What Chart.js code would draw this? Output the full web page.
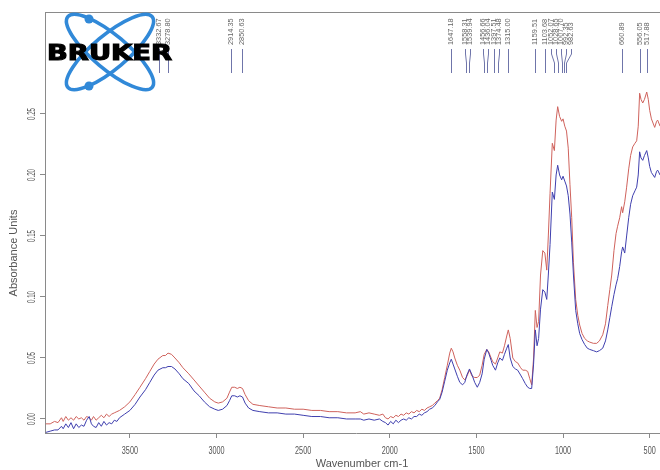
<!DOCTYPE html>
<html><head><meta charset="utf-8">
<script src="https://cdn.jsdelivr.net/npm/chart.js@4"></script>
<style>
html,body{margin:0;padding:0;background:#fff;overflow:hidden;}
#wrap{position:relative;width:660px;height:470px;overflow:hidden;background:#fff;}
#box{position:absolute;left:0;top:0;width:700px;height:470px;}
#logo{position:absolute;left:0;top:0;pointer-events:none;}
</style></head><body>
<div id="wrap">
<div id="box"><canvas id="c" width="700" height="470"></canvas></div>
<svg id="logo" width="660" height="470" xmlns="http://www.w3.org/2000/svg">
  <g fill="none" stroke="#3189d8" stroke-width="3.6">
    <ellipse cx="110" cy="52" rx="55" ry="17" transform="rotate(40 110 52)"/>
    <ellipse cx="110" cy="52" rx="55" ry="17" transform="rotate(-40 110 52)"/>
  </g>
  <circle cx="89" cy="19" r="4.5" fill="#3189d8"/>
  <circle cx="89" cy="86" r="4.5" fill="#3189d8"/>
  <text x="47" y="60" font-family="DejaVu Sans, sans-serif" font-weight="bold" font-size="21" fill="#000" stroke="#000" stroke-width="1.1" textLength="125" lengthAdjust="spacingAndGlyphs">BRUKER</text>
</svg>
</div>
<script>
// wavenumber (cm-1)
const wavenumbers = [3985,3960,3935,3915,3895,3885,3870,3855,3840,3825,3810,3795,3780,3765,3750,3735,3722,3710,3695,3680,3665,3650,3635,3620,3605,3590,3575,3560,3530,3500,3470,3442,3410,3385,3360,3338,3310,3295,3280,3260,3240,3215,3194,3160,3130,3100,3070,3040,3010,2990,2965,2940,2925,2912,2895,2880,2865,2850,2835,2815,2790,2750,2700,2650,2600,2550,2500,2450,2400,2350,2300,2250,2200,2170,2150,2120,2090,2060,2040,2025,2010,1995,1980,1965,1950,1935,1920,1905,1890,1875,1860,1845,1830,1815,1800,1785,1770,1755,1740,1725,1712,1698,1683,1668,1654,1645,1635,1625,1610,1596,1580,1567,1555,1540,1525,1510,1495,1481,1467,1455,1440,1429,1415,1406,1390,1377,1365,1350,1338,1325,1316,1305,1290,1275,1262,1245,1233,1218,1204,1192,1181,1170,1160,1150,1141,1130,1117,1105,1094,1085,1075,1062,1050,1040,1031,1020,1008,1000,990,980,970,960,950,940,927,915,904,890,875,860,846,825,806,790,771,755,742,730,719,706,694,685,673,662,656,644,633,621,610,598,585,575,566,558,550,540,530,517,508,500,490,471,460,454,440];
// sample 1 (red)
const sampleRed = [-0.004,-0.004,-0.002,-0.003,0.001,-0.002,0.002,-0.001,0.001,-0.001,0.002,0.000,0.001,-0.001,0.002,0.001,-0.001,0.002,-0.001,0.001,0.003,0.001,0.004,0.002,0.004,0.005,0.006,0.007,0.010,0.014,0.020,0.026,0.033,0.039,0.045,0.049,0.052,0.052,0.054,0.053,0.050,0.046,0.042,0.037,0.032,0.027,0.022,0.017,0.014,0.013,0.014,0.017,0.022,0.026,0.026,0.025,0.026,0.025,0.020,0.015,0.012,0.011,0.010,0.009,0.009,0.008,0.008,0.007,0.007,0.006,0.006,0.005,0.005,0.006,0.004,0.005,0.004,0.003,0.004,0.001,0.000,0.002,0.001,0.003,0.002,0.004,0.003,0.005,0.004,0.006,0.005,0.007,0.006,0.008,0.007,0.009,0.010,0.011,0.013,0.015,0.017,0.024,0.034,0.044,0.054,0.058,0.055,0.050,0.044,0.040,0.034,0.032,0.035,0.040,0.035,0.034,0.034,0.036,0.044,0.053,0.057,0.055,0.050,0.047,0.045,0.050,0.055,0.054,0.060,0.068,0.073,0.066,0.050,0.047,0.046,0.042,0.040,0.040,0.039,0.033,0.028,0.050,0.089,0.075,0.080,0.118,0.138,0.136,0.122,0.150,0.185,0.226,0.220,0.245,0.256,0.248,0.244,0.246,0.240,0.236,0.222,0.192,0.165,0.128,0.098,0.085,0.077,0.070,0.066,0.064,0.063,0.062,0.062,0.064,0.069,0.078,0.093,0.106,0.118,0.138,0.152,0.158,0.165,0.174,0.169,0.178,0.190,0.205,0.216,0.223,0.226,0.228,0.240,0.267,0.262,0.259,0.262,0.268,0.262,0.253,0.246,0.239,0.244,0.245,0.240];
// sample 2 (blue)
const sampleBlue = [-0.011,-0.010,-0.009,-0.009,-0.006,-0.008,-0.004,-0.007,-0.003,-0.008,-0.004,-0.007,-0.005,-0.006,-0.001,0.002,-0.004,-0.006,-0.007,-0.003,-0.006,-0.002,-0.005,-0.003,-0.004,-0.001,-0.002,0.001,0.004,0.007,0.012,0.018,0.024,0.030,0.036,0.040,0.042,0.042,0.043,0.043,0.041,0.037,0.033,0.029,0.023,0.019,0.014,0.010,0.008,0.007,0.008,0.011,0.015,0.019,0.019,0.018,0.019,0.018,0.013,0.009,0.007,0.006,0.005,0.005,0.004,0.004,0.003,0.002,0.002,0.001,0.001,0.000,0.000,0.000,-0.001,0.000,-0.001,0.000,-0.002,-0.003,-0.005,-0.002,-0.004,-0.001,-0.003,-0.001,0.000,-0.001,0.001,0.000,0.002,0.002,0.004,0.003,0.005,0.006,0.008,0.009,0.011,0.014,0.016,0.022,0.031,0.040,0.046,0.049,0.045,0.041,0.035,0.030,0.028,0.030,0.036,0.041,0.036,0.030,0.026,0.030,0.037,0.049,0.057,0.054,0.048,0.044,0.040,0.046,0.050,0.048,0.053,0.058,0.061,0.050,0.043,0.041,0.040,0.036,0.033,0.029,0.026,0.025,0.025,0.045,0.073,0.060,0.066,0.090,0.106,0.104,0.098,0.118,0.143,0.186,0.180,0.200,0.208,0.200,0.196,0.199,0.195,0.191,0.183,0.168,0.145,0.118,0.089,0.078,0.070,0.065,0.061,0.058,0.057,0.056,0.055,0.056,0.058,0.064,0.073,0.083,0.092,0.102,0.110,0.115,0.125,0.137,0.141,0.136,0.150,0.165,0.176,0.183,0.187,0.190,0.200,0.219,0.214,0.212,0.216,0.220,0.214,0.207,0.202,0.198,0.203,0.204,0.200];
const xTicks = [3500,3000,2500,2000,1500,1000,500];
const yTicks = [0.00,0.05,0.10,0.15,0.20,0.25];
const peakLabels = [3332.67,3278.80,2914.35,2850.63,1647.18,1558.31,1539.94,1456.66,1436.04,1397.51,1374.48,1315.00,1159.51,1103.68,1052.07,1028.65,1007.70,992.35,982.63,660.89,556.05,517.88];
const xTitle = 'Wavenumber cm-1';
const yTitle = 'Absorbance Units';

function drawText(ctx, txt, x, y, font, color, rot, sx, align, base){
  ctx.save();
  ctx.translate(x, y);
  if (rot) ctx.rotate(rot);
  ctx.scale(sx, 1);
  ctx.font = font; ctx.fillStyle = color;
  ctx.textAlign = align; ctx.textBaseline = base;
  ctx.fillText(txt, 0, 0);
  ctx.restore();
}

const overlay = {
  id: 'overlay',
  afterDraw(chart){
    const ctx = chart.ctx, a = chart.chartArea;
    const xs = chart.scales.x, ys = chart.scales.y;
    ctx.save();
    // top frame line
    ctx.strokeStyle = '#8a8a8a'; ctx.lineWidth = 1;
    ctx.beginPath(); ctx.moveTo(a.left, a.top + 0.5); ctx.lineTo(a.right, a.top + 0.5); ctx.stroke();
    // x tick labels
    xTicks.forEach(v => {
      drawText(ctx, String(v), xs.getPixelForValue(v), 451, '11px "Liberation Sans", Arial, sans-serif', '#555', 0, 0.66, 'center', 'middle');
    });
    // y tick labels (rotated)
    yTicks.forEach(v => {
      drawText(ctx, v.toFixed(2), 32, ys.getPixelForValue(v), '10px "Liberation Sans", Arial, sans-serif', '#555', -Math.PI/2, 0.62, 'center', 'middle');
    });
    // axis titles
    drawText(ctx, xTitle, (a.left + 667) / 2 + 6, 464, '11px "Liberation Sans", Arial, sans-serif', '#555', 0, 1, 'center', 'middle');
    drawText(ctx, yTitle, 14, 253, '11px "Liberation Sans", Arial, sans-serif', '#555', -Math.PI/2, 1, 'center', 'middle');
    // peak labels with leader lines
    const gap = 5;
    const items = peakLabels.map(w => ({w, p: xs.getPixelForValue(w)})).sort((m, n) => m.p - n.p);
    const clusters = [];
    items.forEach(it => {
      let c = {items: [it]};
      const place = cl => {
        const mean = cl.items.reduce((s, q) => s + q.p, 0) / cl.items.length;
        cl.start = mean - (cl.items.length - 1) * gap / 2;
        cl.end = cl.start + (cl.items.length - 1) * gap;
      };
      place(c);
      while (clusters.length && clusters[clusters.length - 1].end + gap > c.start) {
        const prev = clusters.pop();
        c = {items: prev.items.concat(c.items)};
        place(c);
      }
      clusters.push(c);
    });
    clusters.forEach(cl => cl.items.forEach((it, k) => { it.t = cl.start + k * gap; }));
    ctx.strokeStyle = '#6f75aa'; ctx.lineWidth = 1;
    items.forEach(it => {
      const t = Math.round(it.t) + 0.5, p = Math.round(it.p) + 0.5;
      ctx.beginPath();
      ctx.moveTo(t, 49); ctx.lineTo(t, 54); ctx.lineTo(p, 63); ctx.lineTo(p, 73);
      ctx.stroke();
      drawText(ctx, it.w.toFixed(2), it.t, 45, '7.4px "Liberation Sans", Arial, sans-serif', '#666', -Math.PI/2, 1, 'left', 'middle');
    });
    ctx.restore();
  }
};

const axisCommon = {
  ticks: {display: false},
  grid: {drawOnChartArea: false, drawTicks: true, tickLength: 5, color: '#8a8a8a'},
  border: {display: true, color: '#8a8a8a'}
};

new Chart(document.getElementById('c'), {
  type: 'line',
  data: {
    datasets: [
      {label: 'blue', data: wavenumbers.map((w, i) => ({x: w, y: sampleBlue[i]})), borderColor: '#3f3fae', borderWidth: 1, pointRadius: 0, tension: 0},
      {label: 'red', data: wavenumbers.map((w, i) => ({x: w, y: sampleRed[i]})), borderColor: '#cf625c', borderWidth: 1, pointRadius: 0, tension: 0}
    ]
  },
  options: {
    responsive: false, animation: false, devicePixelRatio: 1,
    layout: {padding: {left: 0, top: 12, right: 33, bottom: 0}},
    plugins: {legend: {display: false}, tooltip: {enabled: false}},
    scales: {
      x: Object.assign({type: 'linear', reverse: true, min: 400, max: 3990,
        afterBuildTicks: s => { s.ticks = xTicks.map(v => ({value: v})); },
        afterFit: s => { s.height = 37; }}, axisCommon),
      y: Object.assign({type: 'linear', min: -0.0115, max: 0.3336,
        afterBuildTicks: s => { s.ticks = yTicks.map(v => ({value: v})); },
        afterFit: s => { s.width = 45; }}, axisCommon)
    }
  },
  plugins: [overlay]
});
</script>
</body></html>
